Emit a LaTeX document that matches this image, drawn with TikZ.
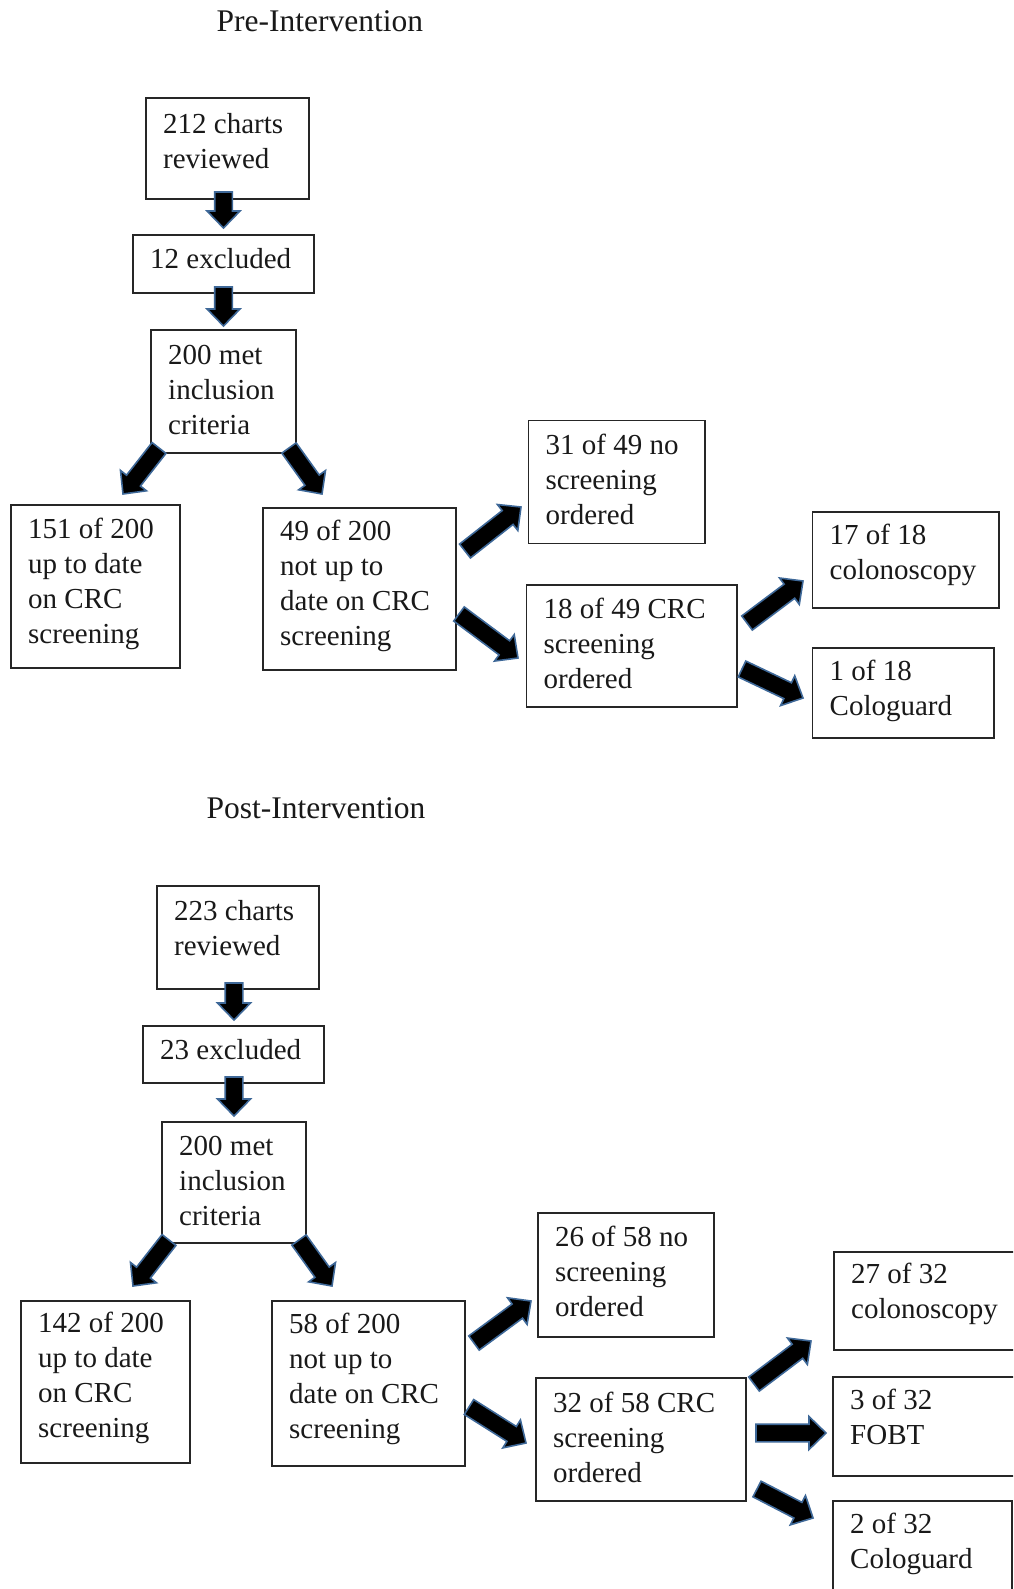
\documentclass[tikz,border=0pt]{standalone}
\usepackage{fontspec}
\setmainfont{Liberation Serif}
\usetikzlibrary{calc}
\definecolor{arrowblue}{RGB}{62,104,152}
\newcommand\arrSW{8.8pt}
\newcommand\arrHW{16.5pt}
\newcommand\arrHL{17pt}
\tikzset{
  boxsty/.style={draw=black!85, line width=1.6pt, rectangle, inner sep=0pt, fill=none},
  textsty/.style={inner sep=0pt, align=left, font=\fontsize{29}{35}\selectfont, text=black!90},
  titlesty/.style={inner sep=0pt, font=\fontsize{31.5}{36}\selectfont, text=black!90},
  arrowsty/.style={fill=black, draw=arrowblue, line width=1.6pt, line join=miter},
  blockarrow/.style={
    to path={
      let \p1=($(\tikztotarget)!\arrHL!(\tikztostart)$) in
      ($(\tikztostart)!\arrSW!90:(\tikztotarget)$) --
      ($(\p1)!\arrSW!90:(\tikztotarget)$) --
      ($(\p1)!\arrHW!90:(\tikztotarget)$) --
      (\tikztotarget) --
      ($(\p1)!\arrHW!-90:(\tikztotarget)$) --
      ($(\p1)!\arrSW!-90:(\tikztotarget)$) --
      ($(\tikztostart)!\arrSW!-90:(\tikztotarget)$) -- cycle
    }
  }
}
% name, left, top, right, bottom, first baseline, text
\newcommand\flowbox[7]{%
  \node[boxsty, minimum width={#4-#2}, minimum height={#5-#3}, anchor=north west] (#1) at (#2,#3) {};
  \node[textsty, anchor=north west] (#1t) at ({#2+18},{#6-20}) {\rule{0pt}{20pt}#7};
}
\begin{document}
\begin{tikzpicture}[x=1pt,y=-1pt]
\useasboundingbox (0,0) rectangle (1013,1589);
\clip (0,0) rectangle (1013,1589);
\fill[white] (0,0) rectangle (1013,1589);

% ---------- Pre-Intervention ----------
\node[titlesty, anchor=base west] (pretitle) at (216.5,31.5) {Pre-Intervention};

\flowbox{pA}{145}{97}{308}{198}{133}{212 charts\\reviewed}
\flowbox{pB}{132}{234}{313}{292}{268}{12 excluded}
\flowbox{pC}{150}{329}{295}{452}{364}{200 met\\inclusion\\criteria}
\flowbox{pD}{10}{504}{179}{667}{538}{151 of 200\\up to date\\on CRC\\screening}
\flowbox{pE}{262}{507}{455}{669}{540}{49 of 200\\not up to\\date on CRC\\screening}
\flowbox{pF}{527.5}{419.5}{704}{542.5}{453.5}{31 of 49 no\\screening\\ordered}
\flowbox{pG}{525.5}{584}{736}{706}{618}{18 of 49 CRC\\screening\\ordered}
\flowbox{pH}{811.5}{511}{998}{607}{543.5}{17 of 18\\colonoscopy}
\flowbox{pI}{811.5}{647}{993}{737}{680}{1 of 18\\Cologuard}

\coordinate (a1s) at (223.5,192);  \coordinate (a1e) at (223.5,228);
\coordinate (a2s) at (223.5,287);  \coordinate (a2e) at (223.5,326);
\coordinate (a3s) at (159,448);    \coordinate (a3e) at (123,494);
\coordinate (a4s) at (289,448);    \coordinate (a4e) at (322,494);
\coordinate (a5s) at (465,551);    \coordinate (a5e) at (521,507);
\coordinate (a6s) at (459,614);    \coordinate (a6e) at (518,658);
\coordinate (a7s) at (747,623);    \coordinate (a7e) at (803,581);
\coordinate (a8s) at (742,669);    \coordinate (a8e) at (803,698);
\foreach \i in {1,...,8}{
  \filldraw[arrowsty] (a\i s) to[blockarrow] (a\i e);
}

% ---------- Post-Intervention ----------
\node[titlesty, anchor=base west] (posttitle) at (206.5,818) {Post-Intervention};

\flowbox{qA}{156}{885}{318}{988}{920}{223 charts\\reviewed}
\flowbox{qB}{142}{1025}{323}{1082}{1059}{23 excluded}
\flowbox{qC}{161}{1121}{305}{1242}{1155}{200 met\\inclusion\\criteria}
\flowbox{qD}{20}{1300}{189}{1462}{1332}{142 of 200\\up to date\\on CRC\\screening}
\flowbox{qE}{271}{1300}{464}{1465}{1333}{58 of 200\\not up to\\date on CRC\\screening}
\flowbox{qF}{537}{1212}{713}{1336}{1246}{26 of 58 no\\screening\\ordered}
\flowbox{qG}{535}{1377}{745}{1500}{1412}{32 of 58 CRC\\screening\\ordered}
\flowbox{qH}{833}{1251}{1030}{1349}{1283}{27 of 32\\colonoscopy}
\flowbox{qI}{832}{1376}{1030}{1475}{1409}{3 of 32\\FOBT}
\flowbox{qJ}{832}{1500}{1011}{1640}{1533}{2 of 32\\Cologuard}

\coordinate (b1s) at (234,983);    \coordinate (b1e) at (234,1020);
\coordinate (b2s) at (234,1077);   \coordinate (b2e) at (234,1116);
\coordinate (b3s) at (169,1240);   \coordinate (b3e) at (133,1286);
\coordinate (b4s) at (299,1240);   \coordinate (b4e) at (332,1286);
\coordinate (b5s) at (474,1343);   \coordinate (b5e) at (531,1301);
\coordinate (b6s) at (469,1407);   \coordinate (b6e) at (526,1443);
\coordinate (b7s) at (754,1384);   \coordinate (b7e) at (811,1341);
\coordinate (b8s) at (756,1433);   \coordinate (b8e) at (826,1433);
\coordinate (b9s) at (757,1489);   \coordinate (b9e) at (813,1518);
\foreach \i in {1,...,9}{
  \filldraw[arrowsty] (b\i s) to[blockarrow] (b\i e);
}
\end{tikzpicture}
\end{document}
